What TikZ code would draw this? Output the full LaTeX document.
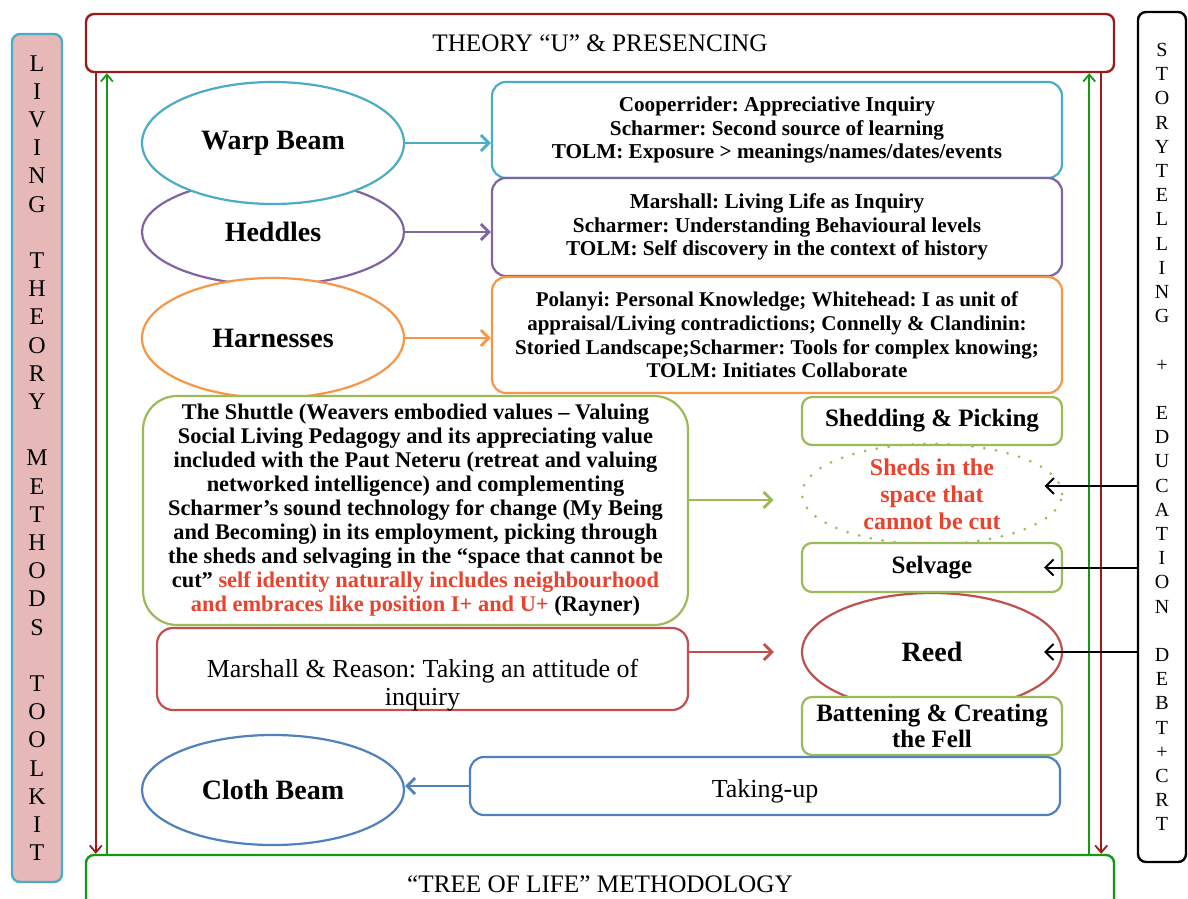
\documentclass[tikz,border=0pt]{standalone}
\usepackage{fontspec}
\setmainfont{Liberation Serif}
\usetikzlibrary{shapes.geometric,arrows.meta,calc}
\frenchspacing
\definecolor{cyanc}{HTML}{4BACC6}
\definecolor{purplec}{HTML}{8064A2}
\definecolor{orangec}{HTML}{F79646}
\definecolor{greenc}{HTML}{9BBB59}
\definecolor{redc}{HTML}{C0504D}
\definecolor{bluec}{HTML}{4F81BD}
\definecolor{darkred}{HTML}{9E1A1A}
\definecolor{arrowgreen}{HTML}{139A13}
\definecolor{pinkfill}{HTML}{E6B9B8}
\definecolor{shedred}{HTML}{E8432E}

\begin{document}
\begin{tikzpicture}[x=0.5pt, y=-0.5pt]
\tikzstyle{bar}=[draw, fill=white, rounded corners=4pt, line width=1.2pt, inner sep=0pt, minimum width=514pt, minimum height=29pt, font=\fontsize{12.6}{14}\selectfont]
\tikzstyle{side}=[draw, rounded corners=4pt, line width=1.2pt, inner sep=0pt, align=center]
\tikzstyle{beam}=[ellipse, draw, fill=white, line width=1.1pt, inner sep=0pt, minimum width=131pt, font=\fontsize{14}{16}\selectfont\bfseries]
\tikzstyle{card}=[draw, fill=white, rounded corners=7pt, line width=1.1pt, inner sep=0pt, align=center, font=\fontsize{10.6}{11.8}\selectfont\bfseries]
\tikzstyle{part}=[draw=greenc, fill=white, rounded corners=5pt, line width=1.1pt, inner sep=0pt, minimum width=130pt, align=center, font=\fontsize{12.5}{13}\selectfont\bfseries]
\tikzstyle{flow}=[-{Straight Barb[length=4pt, width=8pt]}, line width=1.4pt]
\tikzstyle{pointer}=[-{Straight Barb[length=4pt, width=8pt]}, line width=1pt, black]
\tikzstyle{upline}=[-{Straight Barb[length=3.5pt, width=6pt]}, line width=0.9pt, arrowgreen]
\tikzstyle{downline}=[-{Straight Barb[length=3.5pt, width=6pt]}, line width=0.9pt, darkred]
\useasboundingbox (0,0) rectangle (1188,899);

\node (theory) [bar, draw=darkred] at (600,43) {THEORY “U” \& PRESENCING};
\node (tree) [bar, draw=arrowgreen] at (600,884) {“TREE OF LIFE” METHODOLOGY};
\node (living) [side, draw=cyanc, fill=pinkfill, minimum width=25pt, minimum height=424pt, font=\fontsize{12}{14.1}\selectfont] at (37,458)
  {L\\I\\V\\I\\N\\G\\[14.1pt]T\\H\\E\\O\\R\\Y\\[14.1pt]M\\E\\T\\H\\O\\D\\S\\[14.1pt]T\\O\\O\\L\\K\\I\\T};
\node (story) [side, draw=black, fill=white, minimum width=24pt, minimum height=425pt, font=\fontsize{10}{12.1}\selectfont] at (1162,437)
  {S\\T\\O\\R\\Y\\T\\E\\L\\L\\I\\N\\G\\[12.1pt]+\\[12.1pt]E\\D\\U\\C\\A\\T\\I\\O\\N\\[12.1pt]D\\E\\B\\T\\+\\C\\R\\T};

\draw [downline] ($(theory.south west)+(11,0)$) -- ($(tree.north west)+(11,0)$);
\draw [upline] ($(tree.north west)+(22,0)$) -- ($(theory.south west)+(22,0)$);
\draw [upline] ($(tree.north east)+(-26,0)$) -- ($(theory.south east)+(-26,0)$);
\draw [downline] ($(theory.south east)+(-14,0)$) -- ($(tree.north east)+(-14,0)$);

\node (heddles) [beam, draw=purplec, minimum height=53pt] at (273,232) {Heddles};
\node (warp) [beam, draw=cyanc, minimum height=61pt] at (273,143) {Warp Beam};
\node (harness) [beam, draw=orangec, minimum height=60pt] at (273,338) {Harnesses};
\node (cloth) [beam, draw=bluec, minimum height=55pt] at (273,790) {Cloth Beam};

\node (coop) [card, draw=cyanc, minimum width=285pt, minimum height=48pt] at (777,130)
  {Cooperrider: Appreciative Inquiry\\Scharmer: Second source of learning\\TOLM: Exposure > meanings/names/dates/events};
\node (marsh) [card, draw=purplec, minimum width=285pt, minimum height=49pt] at (777,227)
  {Marshall: Living Life as Inquiry\\Scharmer: Understanding Behavioural levels\\TOLM: Self discovery in the context of history};
\node (polanyi) [card, draw=orangec, minimum width=285pt, minimum height=58pt, font=\fontsize{10.5}{11.9}\selectfont\bfseries] at (777,335)
  {Polanyi: Personal Knowledge; Whitehead: I as unit of\\appraisal/Living contradictions; Connelly \& Clandinin:\\Storied Landscape;Scharmer: Tools for complex knowing;\\TOLM: Initiates Collaborate};

\node (shuttle) [card, draw=greenc, rounded corners=17pt, minimum width=272.5pt, minimum height=114.5pt, font=\fontsize{11.2}{12}\selectfont\bfseries] at (415.5,510.5)
  {The Shuttle (Weavers embodied values – Valuing\\Social Living Pedagogy and its appreciating value\\included with the Paut Neteru (retreat and valuing\\networked intelligence) and complementing\\Scharmer’s sound technology for change (My Being\\and Becoming) in its employment, picking through\\the sheds and selvaging in the “space that cannot be\\cut” \textcolor{shedred}{self identity naturally includes neighbourhood}\\\textcolor{shedred}{and embraces like position I+ and U+} (Rayner)};

\node (shedding) [part, minimum height=24pt] at (932,421) {Shedding \& Picking};
\node (sheds) [ellipse, draw=greenc, line width=1.5pt, dash pattern=on 0pt off 6pt, line cap=round, minimum width=130pt, minimum height=48pt, inner sep=0pt, align=center, text=shedred, font=\fontsize{12}{13.5}\selectfont\bfseries] at (932,494)
  {Sheds in the\\space that\\cannot be cut};
\node (reed) [beam, draw=redc, minimum width=130pt, minimum height=59pt] at (932,652) {Reed};
\node (selvage) [part, minimum height=24.5pt] at (932,567.5) {Selvage};
\node (batten) [part, minimum height=29pt] at (932,726) {Battening \& Creating\\the Fell};

\node (reason) [card, draw=redc, rounded corners=8pt, minimum width=265.5pt, minimum height=41pt] at (422.5,669) {};
\node (reasontext) [align=center, font=\fontsize{13}{14}\selectfont] at ($(reason.center)+(0,16)$) {Marshall \& Reason: Taking an attitude of\\inquiry};
\node (takeup) [card, draw=bluec, minimum width=295pt, minimum height=29pt, text height=11.8pt, text depth=0pt, font=\fontsize{13}{14}\selectfont\mdseries] at (765,786) {Taking-up};

\draw [flow, cyanc] (warp.east) -- (warp.east -| coop.west);
\draw [flow, purplec] (heddles.east) -- (heddles.east -| marsh.west);
\draw [flow, orangec] (harness.east) -- (harness.east -| polanyi.west);
\draw [flow, greenc] ($(shuttle.east |- sheds.west)+(0,6)$) -- ($(sheds.west)+(-27,6)$);
\draw [flow, redc] (reason.east |- reed.west) -- ($(reed.west)+(-27,0)$);
\draw [flow, bluec] (takeup.west) -- (takeup.west -| cloth.east);

\draw [pointer] ($(story.west |- sheds.east)+(0,-8)$) -- ($(sheds.east)+(-19,-8)$);
\draw [pointer] (story.west |- selvage.east) -- ($(selvage.east)+(-19,0)$);
\draw [pointer] (story.west |- reed.east) -- ($(reed.east)+(-19,0)$);
\end{tikzpicture}
\end{document}
